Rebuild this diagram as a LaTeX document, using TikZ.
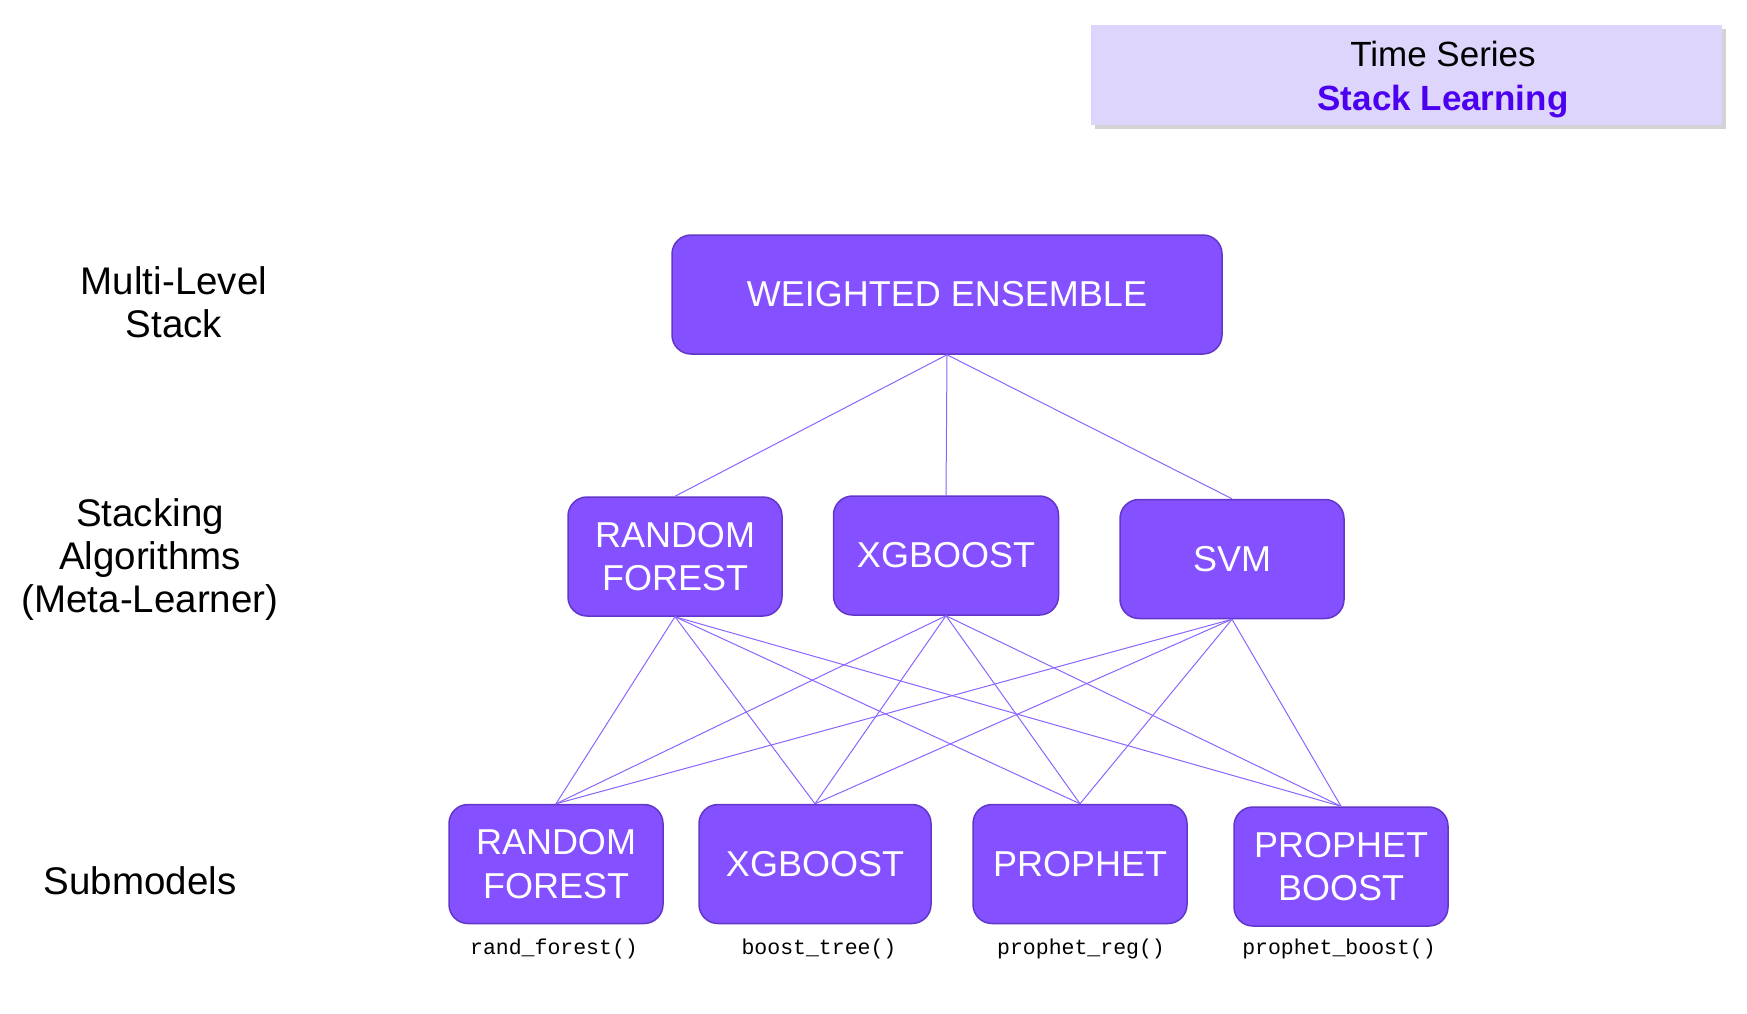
\documentclass[tikz,border=0pt]{standalone}
\usepackage{fontspec}
\setmainfont{Liberation Sans}
\setmonofont{Liberation Mono}
\usetikzlibrary{shadows}
\definecolor{boxfill}{RGB}{133,80,255}
\definecolor{boxline}{RGB}{98,54,200}
\definecolor{linkc}{RGB}{140,100,255}
\definecolor{titlefill}{RGB}{221,213,252}
\definecolor{titleblue}{RGB}{76,0,240}
\begin{document}
\begin{tikzpicture}[x=1pt,y=-1pt,
  model/.style={draw=boxline, line width=1.5pt, fill=boxfill, rounded corners=19pt,
    text=white, align=center, font=\fontsize{36}{43.5}\selectfont, inner sep=0pt,
    minimum width=214pt, minimum height=119pt},
  lvl/.style={align=center, font=\fontsize{38.5}{43}\selectfont, inner sep=0pt},
  fn/.style={font=\ttfamily\fontsize{21.5}{24}\selectfont, inner sep=0pt},
  link/.style={draw=linkc, line width=1pt}
]
\useasboundingbox (0,0) rectangle (1747,1013);

% title
\node[draw=none, fill=titlefill, minimum width=631pt, minimum height=100pt, inner sep=0pt,
  drop shadow={shadow xshift=4pt, shadow yshift=-4pt, opacity=0.35}] (title) at (1406.5,74.5) {};
\node[align=center, inner sep=0pt, font=\fontsize{35}{44.6}\selectfont] (titletext) at (1443,79.5)
  {Time Series\\\textcolor{titleblue}{\bfseries Stack Learning}};

% level labels
\node[lvl] (l1) at (174,302) {Multi-Level\\Stack};
\node[lvl] (l2) at (150,560) {Stacking\\Algorithms\\(Meta-Learner)};
\node[lvl] (l3) at (140,881) {Submodels};

% top
\node[model, minimum width=550pt] (we) at (947,294.5) {WEIGHTED ENSEMBLE};

% stacking
\node[model] (s1) at (675,556.5) {RANDOM\\FOREST};
\node[model, minimum width=225pt] (s2) at (946,555.5) {XGBOOST};
\node[model, minimum width=224pt] (s3) at (1232,559) {SVM};

% submodels
\node[model] (m1) at (556,864) {RANDOM\\FOREST};
\node[model, minimum width=232pt] (m2) at (815,864) {XGBOOST};
\node[model] (m3) at (1080,864) {PROPHET};
\node[model] (m4) at (1341,866.5) {PROPHET\\BOOST};

% function names
\node[fn] (f1) at (554,949) {rand\_forest()};
\node[fn] (f2) at (819,949) {boost\_tree()};
\node[fn] (f3) at (1081,949) {prophet\_reg()};
\node[fn] (f4) at (1339,949) {prophet\_boost()};

% connectors
\foreach \s in {s1,s2,s3} {
  \draw[link] (we.south) -- (\s.north);
  \foreach \m in {m1,m2,m3,m4} {
    \draw[link] (\s.south) -- (\m.north);
  }
}
\end{tikzpicture}
\end{document}
